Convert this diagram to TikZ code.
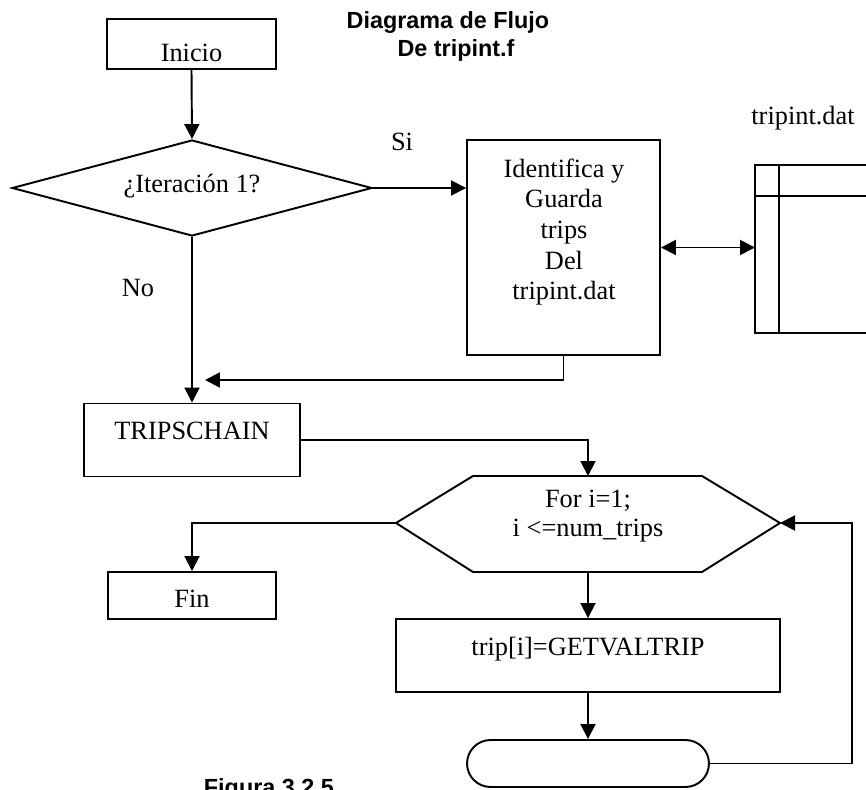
\documentclass[tikz,border=0pt]{standalone}
\usepackage{fontspec}
\setmainfont{Liberation Serif}
\newfontfamily\headfont{Liberation Sans}
\usetikzlibrary{arrows.meta,shapes.geometric,shapes.misc}
\begin{document}
\begin{tikzpicture}[x=0.02cm,y=-0.02cm,
  line width=1.1pt,
  box/.style={draw, rectangle, inner sep=0pt},
  txt/.style={inner sep=0pt, font=\fontsize{15}{17.4}\selectfont},
  head/.style={inner sep=0pt, font=\headfont\bfseries\fontsize{13.3}{16}\selectfont},
  flow/.style={-{Triangle[length=0.3cm,width=0.3cm]}},
  both/.style={{Triangle[length=0.3cm,width=0.3cm]}-{Triangle[length=0.3cm,width=0.3cm]}}]
\useasboundingbox (0,0) rectangle (866,790);

% title
\node[head, anchor=base] (title1) at (448,29) {Diagrama de Flujo};
\node[head, anchor=base] (title2) at (456,57) {De tripint.f};

% start
\node[box, minimum width=3.38cm, minimum height=1.0cm] (inicio) at (191.5,44) {};
\node[txt, anchor=base] (inicioT) at (191.5,62) {Inicio};

% first decision
\node[draw, diamond, inner sep=0pt, minimum width=7.2cm, minimum height=1.92cm] (iter) at (192,188) {};
\node[txt, anchor=base] (iterT) at (192,193) {¿Iteración 1?};
\node[txt, anchor=base] (si) at (402,151) {Si};
\node[txt, anchor=base] (no) at (138,297) {No};

% read trips from file
\node[box, minimum width=3.86cm, minimum height=4.3cm] (ident) at (563.5,247.5) {};
\node[txt, align=center] (identT) at (564,232) {Identifica y\\Guarda\\trips\\Del\\tripint.dat};

% data file
\node[txt, anchor=base] (fileT) at (803,125) {tripint.dat};
\coordinate (store) at (755,249);
\draw (900,165) -- (755,165) -- (755,333) -- (900,333);
\draw (779,165) -- (779,333);
\draw (755,196) -- (900,196);

% trip chain
\node[box, minimum width=4.32cm, minimum height=1.46cm] (tc) at (192,440) {};
\node[txt, anchor=base] (tcT) at (192,440) {TRIPSCHAIN};

% loop header
\coordinate (hexL) at (396,523);
\coordinate (hexR) at (780,523);
\coordinate (hexT) at (588,476);
\coordinate (hexB) at (588,572);
\draw (hexL) -- (473,476) -- (702,476) -- (hexR) -- (702,572) -- (473,572) -- cycle;
\node[txt, anchor=base] (forT) at (588,508) {For i=1;};
\node[txt, anchor=base] (condT) at (588,537) {i <=num\_trips};

% end
\node[box, minimum width=3.36cm, minimum height=0.94cm] (fin) at (192,595.5) {};
\node[txt, anchor=base] (finT) at (192,607) {Fin};

% loop body
\node[box, minimum width=7.68cm, minimum height=1.46cm] (get) at (588,655.5) {};
\node[txt, anchor=base] (getT) at (588,655) {trip[i]=GETVALTRIP};
\node[draw, rounded rectangle, inner sep=0pt, minimum width=4.84cm, minimum height=0.94cm] (term) at (588,763.5) {};

% caption
\node[head, anchor=base west] (caption) at (203,795) {Figura 3.2.5};

% connectors
\coordinate (join) at (205,380);
\coordinate (back) at (852,523);
\draw[flow] (inicio.south) -- (iter.north);
\draw[flow] (iter.east) -- (iter.east -| ident.west);
\draw[both] (ident.east) -- (ident.east -| store);
\draw[flow] (ident.south) |- (join);
\draw[flow] (iter.south) -- (tc.north);
\draw[flow] (tc.east) -| (hexT);
\draw[flow] (hexL) -| (fin.north);
\draw[flow] (hexB) -- (get.north);
\draw[flow] (get.south) -- (term.north);
\draw[flow] (term.east) -- (term.east -| back) -- (back) -- (hexR);
\end{tikzpicture}
\end{document}
